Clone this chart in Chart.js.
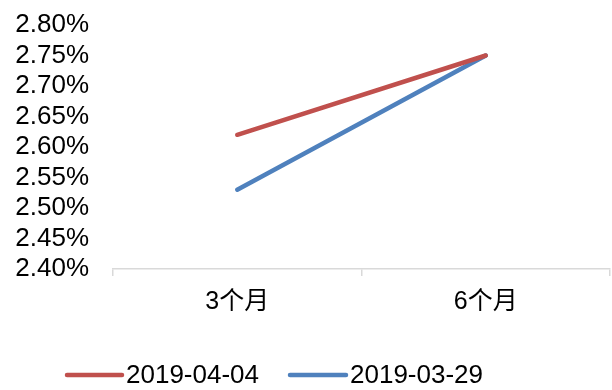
<!DOCTYPE html>
<html>
<head>
<meta charset="utf-8">
<script src="https://cdn.jsdelivr.net/npm/chart.js@4/dist/chart.umd.min.js"></script>
<style>
  html, body { margin: 0; padding: 0; background: #fff; }
  #wrap { width: 612px; height: 390px; }
</style>
</head>
<body>
<div id="wrap"><canvas id="c" width="612" height="390"></canvas></div>
<script>
// Tenors and yields (%) on two dates
const categories = ['3个月', '6个月'];
const series0404 = [2.62, 2.75];
const series0329 = [2.53, 2.75];
const seriesNames = ['2019-04-04', '2019-03-29'];
const yMin = 2.40, yMax = 2.80, yStep = 0.05;

const FONT = '"Liberation Sans", Arial, "Noto Sans CJK SC", sans-serif';
const AXIS_GREY = '#d9d9d9';

// Bottom legend: short round-capped line then the series name
const bottomLegend = {
  id: 'bottomLegend',
  afterDraw(chart) {
    const ctx = chart.ctx;
    const y = 375;
    const items = [{ x0: 67, x1: 122, tx: 126 }, { x0: 290, x1: 346, tx: 350 }];
    ctx.save();
    chart.data.datasets.forEach((ds, i) => {
      const it = items[i];
      ctx.strokeStyle = ds.borderColor;
      ctx.lineWidth = 4.5;
      ctx.lineCap = 'round';
      ctx.beginPath();
      ctx.moveTo(it.x0, y);
      ctx.lineTo(it.x1, y);
      ctx.stroke();
      ctx.fillStyle = '#000';
      ctx.font = '26px ' + FONT;
      ctx.textAlign = 'left';
      ctx.textBaseline = 'alphabetic';
      ctx.fillText(ds.label, it.tx, 383);
    });
    ctx.restore();
  }
};

new Chart(document.getElementById('c'), {
  type: 'line',
  data: {
    labels: categories,
    datasets: [
      { label: seriesNames[0], data: series0404, borderColor: '#C0504D', backgroundColor: '#C0504D',
        borderWidth: 4.5, pointRadius: 0, borderCapStyle: 'round', tension: 0, fill: false },
      { label: seriesNames[1], data: series0329, borderColor: '#4F81BD', backgroundColor: '#4F81BD',
        borderWidth: 4.5, pointRadius: 0, borderCapStyle: 'round', tension: 0, fill: false }
    ]
  },
  options: {
    responsive: false,
    animation: false,
    devicePixelRatio: 1,
    layout: { padding: { top: 25, right: 2, bottom: 0, left: 0 } },
    plugins: { legend: { display: false }, tooltip: { enabled: false } },
    scales: {
      x: {
        offset: true,
        grid: { offset: true, drawOnChartArea: false, drawTicks: true, tickLength: 7, color: AXIS_GREY, lineWidth: 1.5 },
        border: { display: true, color: AXIS_GREY, width: 1.5 },
        ticks: { color: '#000', font: { family: FONT, size: 25 }, padding: 11, maxRotation: 0 },
        afterFit(s) { s.height = 121; }
      },
      y: {
        min: yMin, max: yMax,
        // invisible tick marks keep the labels clear of the plot
        grid: { display: true, drawOnChartArea: false, drawTicks: true, tickLength: 24, color: 'rgba(0,0,0,0)' },
        border: { display: false },
        ticks: {
          stepSize: yStep, autoSkip: false, color: '#000', padding: 0,
          font: { family: FONT, size: 26 },
          callback: v => Number(v).toFixed(2) + '%'
        },
        afterFit(s) { s.width = 113; }
      }
    }
  },
  plugins: [bottomLegend]
});
</script>
</body>
</html>
